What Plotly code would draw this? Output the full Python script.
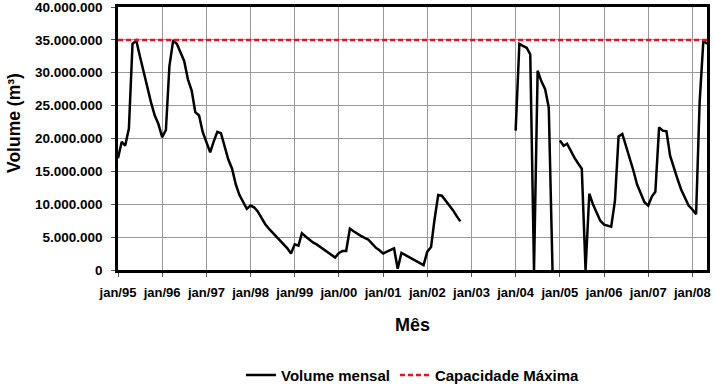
import pandas as pd
import plotly.graph_objects as go

# Monthly volume (millions of m³), Jan/1995 .. May/2008; None = no data
volume_mi = [
    # 1995
    17.0, 19.5, 18.9, 21.5, 34.4, 34.9, 32.5, 30.0, 27.8, 25.5, 23.5, 22.2,
    # 1996
    20.2, 21.3, 31.0, 34.9, 34.4, 33.0, 31.8, 29.0, 27.3, 24.0, 23.5, 21.0,
    # 1997
    19.3, 17.9, 19.5, 21.0, 20.8, 18.7, 16.8, 15.4, 13.0, 11.4, 10.2, 9.3,
    # 1998
    9.8, 9.5, 8.9, 7.9, 7.0, 6.3, 5.7, 5.1, 4.5, 3.9, 3.3, 2.5,
    # 1999
    3.9, 3.7, 5.6, 5.1, 4.6, 4.2, 3.9, 3.5, 3.0, 2.6, 2.2, 1.9,
    # 2000
    2.6, 2.9, 2.9, 6.3, 5.9, 5.5, 5.2, 4.9, 4.6, 4.0, 3.4, 3.0,
    # 2001
    2.5, 2.8, 3.0, 3.3, 0.2, 2.6, 2.3, 2.0, 1.6, 1.3, 1.0, 0.75,
    # 2002
    2.8, 3.5, 7.6, 11.4, 11.3, 10.6, 9.9, 9.1, 8.2, 7.4, None, None,
    # 2003
    None, None, None, None, None, None, None, None, None, None, None, None,
    # 2004
    21.2, 34.4, 34.1, 33.8, 32.8, 0.0, 30.3, 28.7, 27.5, 24.7, 0.0, None,
    # 2005
    19.7, 18.9, 19.2, 18.1, 17.1, 16.2, 15.4, 0.0, 11.6, 10.0, 8.6, 7.5,
    # 2006
    6.9, 6.7, 6.6, 10.5, 20.3, 20.7, 18.9, 17.2, 15.1, 13.0, 11.5, 10.3,
    # 2007
    9.8, 11.2, 11.9, 21.7, 21.2, 21.1, 17.4, 15.5, 13.8, 12.2, 11.0, 9.8,
    # 2008
    9.2, 8.5, 25.5, 34.9, 34.4,
]
capacidade_maxima = 35_000_000
first_month = "1995-01-01"
last_month = "2008-05-01"
year_ticks = [f"{y}-01-01" for y in range(1995, 2009)]
year_labels = ["jan/95", "jan/96", "jan/97", "jan/98", "jan/99", "jan/00", "jan/01",
               "jan/02", "jan/03", "jan/04", "jan/05", "jan/06", "jan/07", "jan/08"]
y_ticks = [0, 5_000_000, 10_000_000, 15_000_000, 20_000_000,
           25_000_000, 30_000_000, 35_000_000, 40_000_000]

months = pd.date_range(first_month, periods=len(volume_mi), freq="MS")
volume = [None if v is None else v * 1_000_000 for v in volume_mi]

FONT = "Liberation Sans, Arial, sans-serif"

fig = go.Figure()
fig.add_trace(go.Scatter(
    x=months, y=volume, mode="lines", name="Volume mensal",
    line=dict(color="black", width=2.5), connectgaps=False,
))
fig.add_trace(go.Scatter(
    x=[first_month, last_month], y=[capacidade_maxima, capacidade_maxima],
    mode="lines", name="Capacidade Máxima",
    line=dict(color="#e8141c", width=2.5, dash="5px,3px"),
))

fig.update_layout(
    width=714, height=388,
    margin=dict(l=118, r=7, t=7, b=118, autoexpand=False),
    paper_bgcolor="white", plot_bgcolor="white",
    separators=",.",
    font=dict(family=FONT, size=14, color="black"),
    showlegend=True,
    legend=dict(orientation="h", x=0.5, xanchor="center", y=-0.40, yanchor="middle",
                font=dict(family=FONT, size=15, color="black", weight="bold"),
                itemwidth=30, tracegroupgap=0, bgcolor="rgba(0,0,0,0)"),
    xaxis=dict(
        type="date", range=[first_month, last_month], automargin=False,
        tickmode="array", tickvals=year_ticks, ticktext=year_labels,
        tickfont=dict(family=FONT, size=13, color="black", weight="bold"),
        ticklabelstandoff=5, ticklabeloverflow="allow",
        showgrid=True, gridcolor="#999999", gridwidth=1,
        showline=True, linecolor="black", linewidth=2.5, mirror=True,
        ticks="outside", ticklen=4, tickcolor="#555555",
        zeroline=False,
    ),
    yaxis=dict(
        range=[0, 40_000_000], tickmode="array", tickvals=y_ticks, automargin=False,
        tickformat=",d",
        tickfont=dict(family=FONT, size=13.5, color="black", weight="bold"),
        ticklabelstandoff=6, ticklabeloverflow="allow",
        showgrid=True, gridcolor="#999999", gridwidth=1,
        showline=True, linecolor="black", linewidth=2.5, mirror=True,
        ticks="outside", ticklen=4, tickcolor="#555555",
        zeroline=False,
    ),
    annotations=[
        dict(text="Mês", xref="paper", yref="paper", x=0.5, y=-0.211,
             xanchor="center", yanchor="middle", showarrow=False,
             font=dict(family=FONT, size=18, color="black", weight="bold")),
        dict(text="Volume (m³)", xref="paper", yref="paper", x=-0.1766, y=0.559,
             xanchor="center", yanchor="middle", textangle=-90, showarrow=False,
             font=dict(family=FONT, size=17.5, color="black", weight="bold")),
    ],
)

fig.write_html(
    "out.html",
    config={"displayModeBar": False},
    post_script="document.body.style.margin='0';document.body.style.overflow='hidden';",
)
